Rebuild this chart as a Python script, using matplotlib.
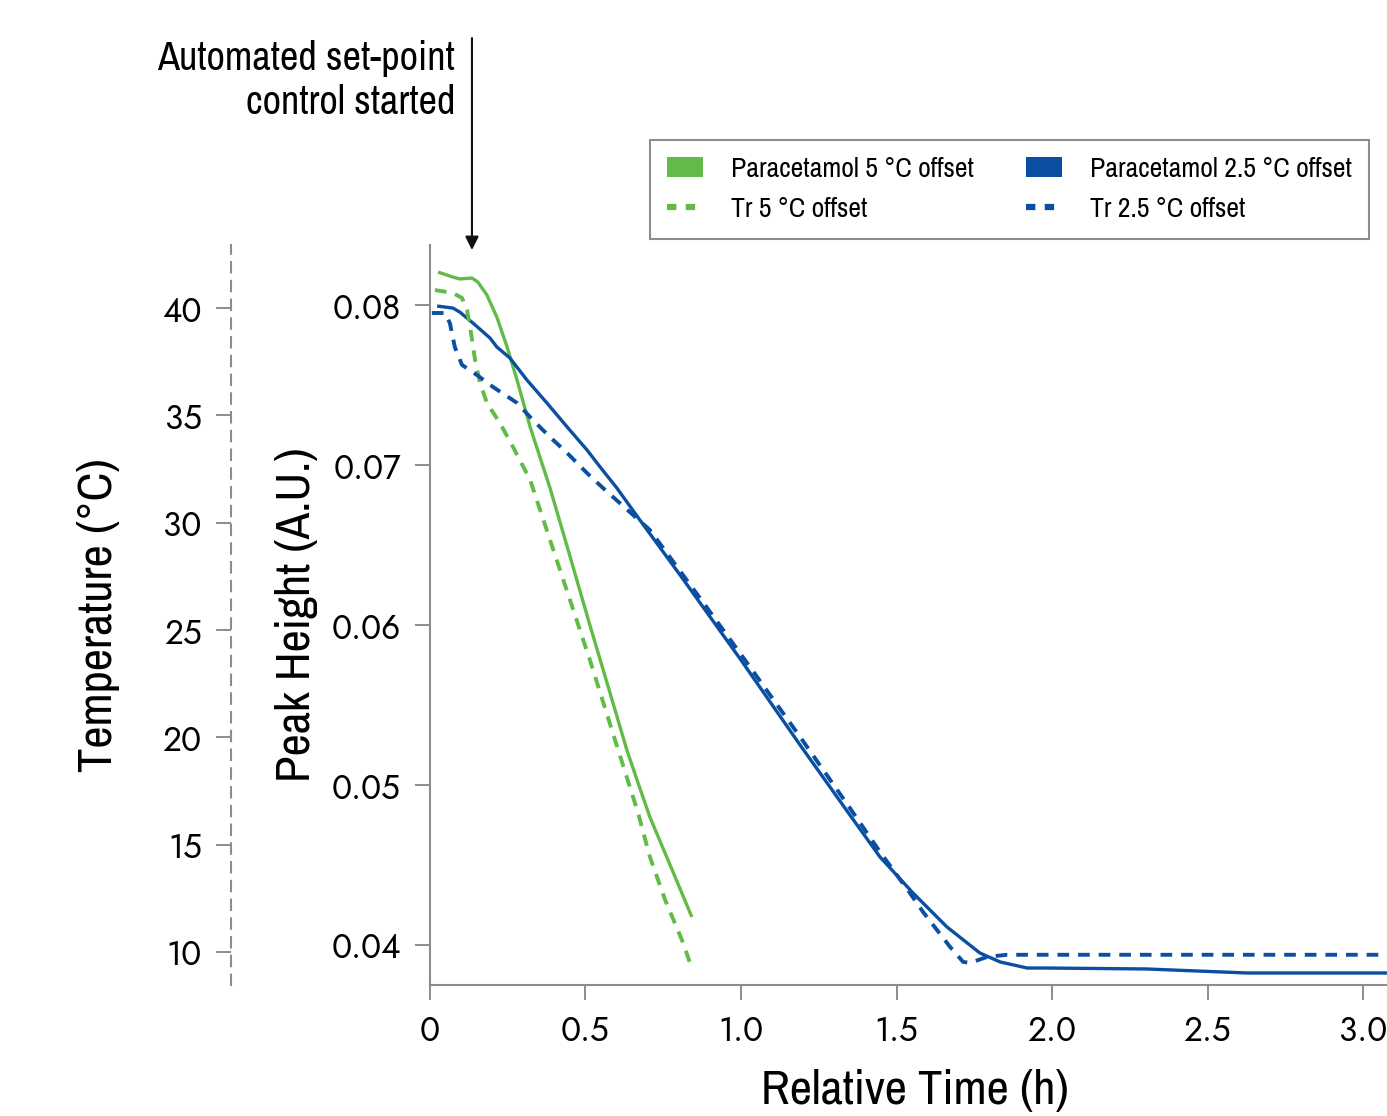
import numpy as np
import matplotlib.pyplot as plt
from matplotlib.patches import Patch
from matplotlib.lines import Line2D

narrow = ['Archivo Narrow', 'Liberation Sans Narrow', 'DejaVu Sans']
plt.rcParams['font.family'] = ['Jost', 'DejaVu Sans']

green = '#62bb46'
blue = '#0b4fa2'
grey = '#8c8c8c'

# Paracetamol peak height, 5 C offset
t_p5 = [0.026, 0.074, 0.096, 0.135, 0.154, 0.183, 0.215, 0.248, 0.280, 0.322, 0.386,
        0.450, 0.514, 0.579, 0.633, 0.669, 0.707, 0.772, 0.842]
p5 = [0.08206, 0.08175, 0.08163, 0.08169, 0.08144, 0.08063, 0.07925, 0.07738, 0.07531,
      0.07238, 0.06856, 0.06431, 0.0600, 0.05575, 0.05219, 0.05013, 0.0480, 0.0450, 0.04175]

# reactor temperature, 5 C offset
t_tr5 = [0.016, 0.074, 0.103, 0.119, 0.129, 0.145, 0.161, 0.183, 0.225, 0.267, 0.322,
         0.418, 0.514, 0.605, 0.669, 0.707, 0.756, 0.814, 0.836]
tr5 = [40.84, 40.70, 40.47, 39.91, 39.12, 37.58, 36.51, 35.58, 34.64, 33.53, 31.99,
       27.80, 23.61, 19.42, 16.48, 14.43, 12.43, 10.42, 9.49]

# Paracetamol peak height, 2.5 C offset
t_p25 = [0.023, 0.074, 0.096, 0.138, 0.193, 0.215, 0.257, 0.312, 0.376, 0.441, 0.505,
         0.547, 0.601, 0.675, 0.804, 1.0, 1.190, 1.350, 1.447, 1.553, 1.662, 1.768,
         1.833, 1.920, 1.984, 2.305, 2.627, 3.077]
p25 = [0.07994, 0.07981, 0.07956, 0.07888, 0.07794, 0.07738, 0.07669, 0.07531, 0.07388,
       0.07238, 0.07094, 0.06988, 0.06856, 0.06656, 0.06313, 0.05781, 0.0525, 0.04813,
       0.0455, 0.04325, 0.04113, 0.0395, 0.03894, 0.03856, 0.03856, 0.0385, 0.03825, 0.03825]

# reactor temperature, 2.5 C offset
t_tr25 = [0.006, 0.048, 0.064, 0.080, 0.103, 0.151, 0.203, 0.280, 0.331, 0.386, 0.441,
          0.505, 0.556, 0.707, 0.868, 1.013, 1.190, 1.350, 1.447, 1.543, 1.585, 1.672,
          1.714, 1.736, 1.791, 1.855, 3.077]
tr25 = [39.77, 39.77, 39.30, 38.18, 37.35, 36.88, 36.32, 35.58, 34.78, 33.99, 33.25,
        32.31, 31.62, 29.66, 26.49, 23.60, 20.02, 16.71, 14.66, 12.75, 11.87, 10.24,
        9.54, 9.49, 9.77, 9.87, 9.87]

fig = plt.figure(figsize=(13.87, 11.16), dpi=100)
ax = fig.add_axes([0.31, 0.1174, 0.69, 0.663])
ax2 = ax.twinx()

ax.plot(t_p5, p5, color=green, lw=2.4, solid_capstyle='butt')
ax.plot(t_p25, p25, color=blue, lw=2.4, solid_capstyle='butt')
ax2.plot(t_tr5, tr5, color=green, lw=2.8, dashes=(3, 2.3))
ax2.plot(t_tr25, tr25, color=blue, lw=2.8, dashes=(3, 2.3))

ax.set_xlim(0, 3.077)
ax.set_ylim(0.0375, 0.08375)
ax2.set_ylim(8.463, 42.934)

ax.set_xticks([0, 0.5, 1.0, 1.5, 2.0, 2.5, 3.0])
ax.set_xticklabels(['0', '0.5', '1.0', '1.5', '2.0', '2.5', '3.0'])
ax.set_yticks([0.04, 0.05, 0.06, 0.07, 0.08])
ax2.set_yticks([10, 15, 20, 25, 30, 35, 40])

for s in ['top', 'right']:
    ax.spines[s].set_visible(False)
for s in ['left', 'bottom']:
    ax.spines[s].set_color(grey)
    ax.spines[s].set_linewidth(1.5)
ax.tick_params(length=11, width=1.4, color=grey, labelsize=24, pad=10)

for s in ['top', 'right', 'bottom']:
    ax2.spines[s].set_visible(False)
ax2.spines['left'].set_visible(True)
ax2.spines['left'].set_position(('outward', 143.3))
ax2.spines['left'].set_linestyle((0, (5, 4)))
ax2.spines['left'].set_color(grey)
ax2.spines['left'].set_linewidth(1.5)
ax2.yaxis.tick_left()
ax2.yaxis.set_label_position('left')
ax2.tick_params(length=11, width=1.4, color=grey, labelsize=24, pad=10)

ax.set_xlabel('Relative Time (h)', family=narrow, fontsize=35)
ax.set_ylabel('Peak Height (A.U.)', family=narrow, fontsize=35)
ax2.set_ylabel('Temperature (°C)', family=narrow, fontsize=35)
ax.xaxis.set_label_coords(0.507, -0.113)
ax.yaxis.set_label_coords(-0.117, 0.5)
ax2.yaxis.set_label_coords(-0.324, 0.5)

handles = [Patch(facecolor=green, edgecolor='none'),
           Line2D([], [], color=green, lw=4.5, dashes=(1.5, 1.5)),
           Patch(facecolor=blue, edgecolor='none'),
           Line2D([], [], color=blue, lw=4.5, dashes=(1.5, 1.5))]
labels = ['Paracetamol 5 °C offset', 'Tr 5 °C offset',
          'Paracetamol 2.5 °C offset', 'Tr 2.5 °C offset']
leg = fig.legend(handles, labels, ncol=2, loc='upper left',
                 bbox_to_anchor=(650 / 1387, 1 - 140 / 1116),
                 prop={'family': narrow, 'size': 20}, fancybox=False,
                 edgecolor=grey, framealpha=1, handlelength=1.3, handleheight=0.7,
                 columnspacing=1.9, labelspacing=0.55, borderpad=0.6,
                 handletextpad=1.0, borderaxespad=0)
leg.get_frame().set_linewidth(1.5)

ax.annotate('', xy=(0.135, 0.08344), xytext=(0.135, 0.09669),
            annotation_clip=False,
            arrowprops=dict(arrowstyle='-|>,head_length=0.8,head_width=0.4',
                            color='#111111', lw=1.5, shrinkA=0, shrinkB=0))
fig.text(455 / 1387, 1 - 40 / 1116, 'Automated set-point\ncontrol started',
         ha='right', va='top', family=narrow, fontsize=29, linespacing=1.25)

fig.savefig('out.png', dpi=100)
